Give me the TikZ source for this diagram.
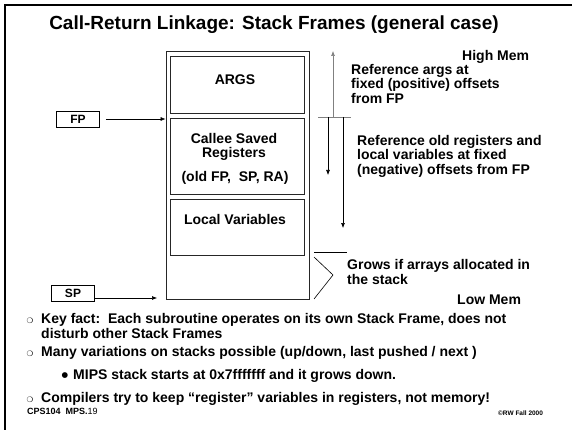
\documentclass[tikz,border=0pt]{standalone}
\usepackage{fontspec}
\setmainfont{Liberation Sans}
\newfontfamily\symfont{DejaVu Sans}
\usetikzlibrary{arrows.meta,positioning,calc}
\tikzset{
  stackbox/.style={rectangle, draw=black!85, line width=0.8pt, minimum width=143pt, minimum height=248pt},
  slotbox/.style={rectangle, draw=black!85, line width=0.8pt, minimum width=134pt},
  regbox/.style={rectangle, draw=black, line width=0.8pt, minimum width=43pt, minimum height=16pt, inner sep=0pt, font=\bfseries\fontsize{12}{13}\selectfont},
  slottext/.style={align=center, inner sep=0pt, font=\bfseries\fontsize{14}{14}\selectfont},
  notetext/.style={align=left, anchor=north west, inner sep=0pt, font=\bfseries\fontsize{14}{14.5}\selectfont},
  pointtext/.style={align=left, anchor=north west, inner sep=0pt, font=\bfseries\fontsize{14}{15}\selectfont},
  pointmark/.style={inner sep=0pt, font=\symfont\fontsize{7.5}{7.5}\selectfont},
  flowarrow/.style={-{Latex[length=5pt,width=4pt]}, line width=0.6pt}
}
\begin{document}
\begin{tikzpicture}[x=1pt,y=-1pt]
\useasboundingbox (0,0) rectangle (572,430);
\draw[line width=2.5pt] (5,430) -- (5,5) -- (572,5);

\node[font=\bfseries\fontsize{19}{21}\selectfont, inner sep=0pt] (title) at (274,25) {Call-Return Linkage: Stack Frames (general case)};

% the frame
\node[stackbox] (frame) at (237.5,175) {};
\node[slotbox, minimum height=57pt] (args) at (237,84.5) {};
\node[slotbox, minimum height=76pt] (callee) at (237,156) {};
\node[slotbox, minimum height=56pt] (locals) at (237,227) {};
\node[slottext] (argslbl) at (235,80) {ARGS};
\node[slottext] (calleelbl) at (234,147) {Callee Saved\\Registers};
\node[slottext] (oldregs) at (235,178) {(old FP,\ \ SP, RA)};
\node[slottext] (localslbl) at (235,219) {Local Variables};

% pointers
\node[regbox] (fp) at (78,119) {FP};
\node[regbox] (sp) at (73,293.5) {SP};
\coordinate (spend) at (157,298);
\draw[flowarrow, shorten <=6pt] (fp.east) -- (fp.east -| frame.west);
\draw[flowarrow] (sp.east |- spend) -- (spend);

% offsets from FP
\draw[gray, line width=0.8pt] (318,117) -- (351,117);
\draw[flowarrow, draw=gray] (333,117) -- (333,51);
\draw[flowarrow] (328,117) -- (328,175);
\draw[flowarrow] (343,117) -- (343,228);
\draw[line width=0.6pt] (314,252) -- (347,252);
\draw[line width=0.6pt] (314,257) -- (333,275) -- (314,299);

\node[notetext] (highmem) at (462,50) {High Mem};
\node[notetext] (argsnote) at (351,64) {Reference args at\\fixed (positive) offsets\\from FP};
\node[notetext] (localnote) at (357,135) {Reference old registers and\\local variables at fixed\\(negative) offsets from FP};
\node[notetext, font=\bfseries\fontsize{14}{15}\selectfont] (grownote) at (347,259.5) {Grows if arrays allocated in\\the stack};
\node[notetext] (lowmem) at (457,294.5) {Low Mem};

% bullets
\node[pointmark] (m1) at (30,321) {❍};
\node[pointtext] (p1) at (41,313.5) {Key fact:\ \ Each subroutine operates on its own Stack Frame, does not\\disturb other Stack Frames};
\node[pointmark] (m2) at (30,354) {❍};
\node[pointtext] (p2) at (41,346.5) {Many variations on stacks possible (up/down, last pushed / next )};
\node[pointmark] (m3) at (65,376) {●};
\node[pointtext] (p3) at (73,369) {MIPS stack starts at 0x7fffffff and it grows down.};
\node[pointmark] (m4) at (30,400) {❍};
\node[pointtext] (p4) at (41,392.5) {Compilers try to keep “register” variables in registers, not memory!};

\node[anchor=west, inner sep=0pt, font=\fontsize{9}{10}\selectfont] (slide) at (27,411) {\textbf{CPS104\ \ MPS.}19};
\node[anchor=west, inner sep=0pt, font=\bfseries\fontsize{6.5}{7}\selectfont] (copy) at (498,413) {©RW Fall 2000};
\end{tikzpicture}
\end{document}
